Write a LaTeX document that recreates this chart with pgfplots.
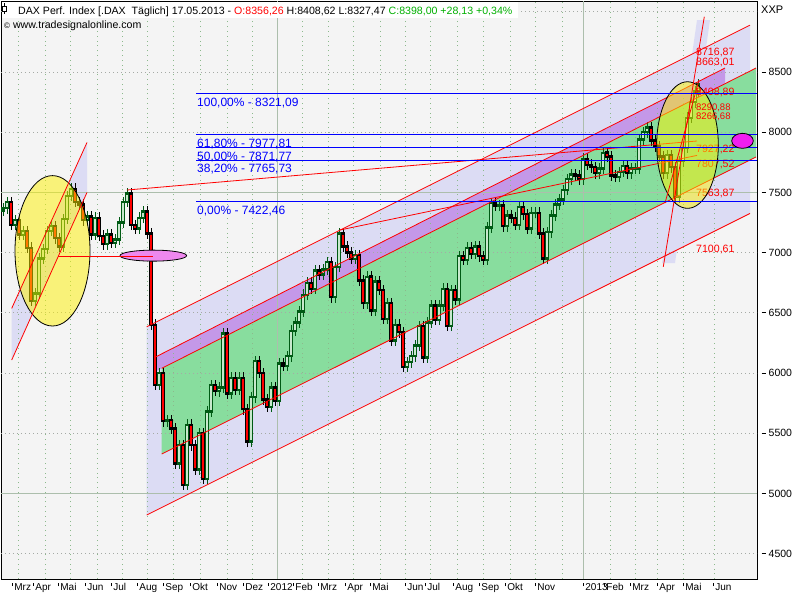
\documentclass[border=0pt]{standalone}
\usepackage{pgfplots}
\pgfplotsset{compat=1.18}
\usepackage{pgfplotstable}
\usepackage{fontspec}
\setmainfont{Liberation Sans}

\definecolor{bgc}{RGB}{244,244,244}
\definecolor{lav}{RGB}{220,220,244}
\definecolor{grn}{RGB}{136,221,158}
\definecolor{pur}{RGB}{196,152,232}
\definecolor{dkg}{RGB}{0,90,20}
\definecolor{upin}{RGB}{200,232,205}
\definecolor{gdotc}{RGB}{140,185,140}
\definecolor{hdotc}{RGB}{165,170,165}
\definecolor{gsolc}{RGB}{172,190,172}
\definecolor{fib}{RGB}{0,0,255}
\definecolor{hgreen}{RGB}{0,176,0}
\definecolor{pinkell}{RGB}{238,136,238}
\definecolor{magell}{RGB}{240,30,240}

\newcommand\tk{\rule[0.3em]{4pt}{0.8pt}\hspace{3pt}}
\newcommand\xt{\rule[0.42em]{0.7pt}{0.3em}\hspace{1.5pt}}
\newcommand\fs{\fontsize{10.5}{12}\selectfont}
\newcommand\fx{\fontsize{10}{12}\selectfont}

\tikzset{
  gdot/.style={draw=gdotc, line width=0.8pt, dash pattern=on 0.8pt off 4pt},
  hdot/.style={draw=hdotc, line width=0.8pt, dash pattern=on 0.8pt off 3.2pt},
  gsol/.style={draw=gsolc, line width=1pt},
  chan/.style={draw=red, line width=0.8pt},
  rlab/.style={anchor=base west, inner sep=0pt, text=red, font=\fontsize{10.6}{12}\selectfont, yshift=-12pt},
  flab/.style={anchor=base west, inner sep=0pt, text=fib, font=\fontsize{12}{13}\selectfont, yshift=-12.5pt},
}
\pgfplotsset{
  cand/.style={draw=none, mark=none, forget plot, error bars/y dir=both, error bars/y explicit, error bars/error mark=none},
}

\pgfplotstableread{
x o c
3 7350 7370
7 7370 7420
11 7420 7230
15 7230 7270
19 7270 7150
23 7150 7180
27 7180 7040
31 7040 6600
35 6600 6660
39 6660 6950
43 6950 7030
47 7030 7180
51 7180 7220
55 7220 7120
59 7120 7050
63 7050 7280
67 7280 7470
71 7470 7530
75 7530 7420
79 7420 7400
83 7400 7270
87 7270 7300
91 7300 7150
95 7150 7290
99 7290 7140
103 7140 7070
107 7070 7150
111 7150 7080
115 7080 7110
119 7110 7250
123 7250 7420
127 7420 7490
131 7490 7230
135 7230 7200
139 7200 7290
143 7290 7340
147 7340 7160
151 7160 6400
155 6400 5900
159 5900 6000
163 6000 5600
167 5600 5610
171 5610 5540
175 5540 5250
179 5250 5400
183 5400 5070
187 5070 5570
191 5570 5400
195 5400 5200
199 5200 5500
203 5500 5120
207 5120 5680
211 5680 5900
215 5900 5850
219 5850 5880
223 5880 6330
227 6330 5830
231 5830 5960
235 5960 5860
239 5860 5960
243 5960 5700
247 5700 5430
251 5430 5800
255 5800 6100
259 6100 6000
263 6000 5780
267 5780 5720
271 5720 5880
275 5880 5770
279 5770 6080
283 6080 6060
287 6060 6140
291 6140 6350
295 6350 6420
299 6420 6510
303 6510 6650
307 6650 6750
311 6750 6700
315 6700 6850
319 6850 6820
323 6820 6860
327 6860 6920
331 6920 6630
335 6630 6880
339 6880 7160
343 7160 7050
347 7050 7000
351 7000 6950
355 6950 6980
359 6980 6770
363 6770 6580
367 6580 6800
371 6800 6520
375 6520 6760
379 6760 6690
383 6690 6450
387 6450 6580
391 6580 6270
395 6270 6400
399 6400 6340
403 6340 6050
407 6050 6090
411 6090 6140
415 6140 6230
419 6230 6390
423 6390 6130
427 6130 6420
431 6420 6560
435 6560 6440
439 6440 6560
443 6560 6700
447 6700 6390
451 6390 6690
455 6690 6610
459 6610 6970
463 6970 6940
467 6940 7040
471 7040 6990
475 6990 7050
479 7050 6970
483 6970 6940
487 6940 7210
491 7210 7410
495 7410 7390
499 7390 7390
503 7390 7220
507 7220 7310
511 7310 7290
515 7290 7230
519 7230 7380
523 7380 7320
527 7320 7200
531 7200 7330
535 7330 7330
539 7330 7160
543 7160 6950
547 6950 7170
551 7170 7310
555 7310 7400
559 7400 7440
563 7440 7520
567 7520 7610
571 7610 7650
575 7650 7640
579 7640 7610
583 7610 7780
587 7780 7730
591 7730 7710
595 7710 7660
599 7660 7700
603 7700 7830
607 7830 7800
611 7800 7640
615 7640 7630
619 7630 7670
623 7670 7720
627 7720 7660
631 7660 7700
635 7700 7700
639 7700 7940
643 7940 8000
647 8000 8040
651 8040 7930
655 7930 7880
659 7880 7800
663 7800 7660
667 7660 7810
671 7810 7710
675 7710 7460
679 7460 7760
683 7760 7870
687 7870 8120
691 8120 8250
695 8250 8340
698 8340 8398
}\dax

\begin{document}
\begin{tikzpicture}[x=1pt,y=1pt]
\useasboundingbox (0,0) rectangle (800,-600);
\begin{axis}[
  at={(1pt,-1pt)}, anchor=north west,
  scale only axis, width=756pt, height=578pt,
  xmin=1, xmax=757, ymin=4289, ymax=9090,
  axis background/.style={fill=bgc},
  axis line style={line width=0.9pt, black},
  ytick={4500,5000,5500,6000,6500,7000,7500,8000,8500},
  yticklabels={\tk 4500,\tk 5000,\tk 5500,\tk 6000,\tk 6500,\tk 7000,\tk 7500,\tk 8000,\tk 8500},
  yticklabel pos=right,
  major tick length=0pt,
  yticklabel style={anchor=west, inner sep=0pt, xshift=4.5pt, font=\fs},
  xtick={12,33,58,85,111,137,163,190,217,243,268,293,318,345,370,405,425,453,479,505,535,583,604,630,657,683,713},
  xticklabels={\xt Mrz,\xt Apr,\xt Mai,\xt Jun,\xt Jul,\xt Aug,\xt Sep,\xt Okt,\xt Nov,\xt Dez,\xt 2012,\xt Feb,\xt Mrz,\xt Apr,\xt Mai,\xt Jun,\xt Jul,\xt Aug,\xt Sep,\xt Okt,\xt Nov,\xt 2013,\xt Feb,\xt Mrz,\xt Apr,\xt Mai,\xt Jun},
  xticklabel style={anchor=north west, inner sep=0pt, yshift=-4pt, font=\fx},
]
% channel fills
\addplot[fill=lav, draw=none] coordinates {(146.7,4820.4) (750,7325.5) (750,8889.5) (146.7,6384.4)} --cycle;
\addplot[fill=lav, draw=none] coordinates {(11.7,6108) (87,7500) (87,7915) (11.7,6537)} --cycle;
\addplot[fill=lav, draw=none] coordinates {(662,6913.5) (697,8931.9) (710,8931.9) (675,6913.5)} --cycle;
\addplot[fill=pur, draw=none] coordinates {(156,6014.8) (725,8402.8) (725,8533.2) (156,6135.2)} --cycle;
\addplot[fill=grn, draw=none] coordinates {(161.7,5327.1) (756,7794) (756,8533.2) (161.7,6038.9)} --cycle;
% grid
\pgfplotsinvokeforeach{18,45,70,97,122,147,173,200,227,252,302,328,353,380,405,430,457,483,510,535,562,610,635,657,683,714}{
  \draw[gdot] (axis cs:#1,4289) -- (axis cs:#1,9090);
}
\pgfplotsinvokeforeach{4500,5500,6000,6500,7000,8000,8500,9000}{
  \draw[hdot] (axis cs:1,#1) -- (axis cs:757,#1);
}
\draw[gsol] (axis cs:277,4289) -- (axis cs:277,9090);
\draw[gsol] (axis cs:583,4289) -- (axis cs:583,9090);
\draw[gsol] (axis cs:1,5000) -- (axis cs:757,5000);
\draw[gsol] (axis cs:1,7500) -- (axis cs:757,7500);
% candles
\addplot[cand, error bars/error bar style={draw=dkg, line width=0.8pt}]
  table[x=x, y expr={(\thisrow{o}+\thisrow{c})/2}, y error expr={(\thisrow{c}-\thisrow{o}>-0.5)*(abs(\thisrow{c}-\thisrow{o})/2+45)}] {\dax};
\addplot[cand, error bars/error bar style={draw=black, line width=0.8pt}]
  table[x=x, y expr={(\thisrow{o}+\thisrow{c})/2}, y error expr={(\thisrow{c}-\thisrow{o}<-0.5)*(abs(\thisrow{c}-\thisrow{o})/2+45)}] {\dax};
\addplot[cand, error bars/error bar style={draw=dkg, line width=3.2pt}]
  table[x=x, y expr={(\thisrow{o}+\thisrow{c})/2}, y error expr={(\thisrow{c}-\thisrow{o}>-0.5)*(abs(\thisrow{c}-\thisrow{o})/2+10)}] {\dax};
\addplot[cand, error bars/error bar style={draw=upin, line width=1.2pt}]
  table[x=x, y expr={(\thisrow{o}+\thisrow{c})/2}, y error expr={(\thisrow{c}-\thisrow{o}>-0.5)*max(abs(\thisrow{c}-\thisrow{o})/2-10,0)}] {\dax};
\addplot[cand, error bars/error bar style={draw=black, line width=3.2pt}]
  table[x=x, y expr={(\thisrow{o}+\thisrow{c})/2}, y error expr={(\thisrow{c}-\thisrow{o}<-0.5)*(abs(\thisrow{c}-\thisrow{o})/2+10)}] {\dax};
\addplot[cand, error bars/error bar style={draw=red, line width=1.4pt}]
  table[x=x, y expr={(\thisrow{o}+\thisrow{c})/2}, y error expr={(\thisrow{c}-\thisrow{o}<-0.5)*max(abs(\thisrow{c}-\thisrow{o})/2-10,0)}] {\dax};
% channel lines
\addplot[chan] coordinates {(146.7,6384.4) (750,8889.5)};
\addplot[chan] coordinates {(146.7,4820.4) (750,7325.5)};
\addplot[chan] coordinates {(156,6135.2) (725,8533.2)};
\addplot[chan] coordinates {(161.7,6038.9) (756,8533.2)};
\addplot[chan] coordinates {(161.7,5327.1) (756,7794)};
\addplot[chan] coordinates {(127,7520) (697,7927.22)};
\addplot[chan] coordinates {(340,7188) (697,7807.52)};
\node[rlab] at (axis cs:696,7927.22) {7927,22};
\node[rlab] at (axis cs:696,7807.52) {7807,52};
\node[rlab] at (axis cs:696,7563.87) {7563,87};
\node[rlab] at (axis cs:696,7100.61) {7100,61};
% yellow ellipses
\draw[black, line width=0.8pt, fill=yellow, fill opacity=0.5] (axis cs:52.5,7015) ellipse [x radius=37.5pt, y radius=75.2pt];
\draw[black, line width=0.8pt, fill=yellow, fill opacity=0.5] (axis cs:687.5,7893.6) ellipse [x radius=30.8pt, y radius=63.3pt];
% steep lines
\addplot[chan] coordinates {(11.7,6537) (87,7915)};
\addplot[chan] coordinates {(11.7,6108) (87,7500)};
\addplot[chan] coordinates {(663.3,6882.8) (704.3,8959.3)};
\addplot[chan] coordinates {(665,7411.9) (699,8433.5)};
\node[rlab, yshift=2.5pt] at (axis cs:696,8716.87) {8716,87};
\node[rlab, yshift=-1pt] at (axis cs:696,8663.01) {8663,01};
\node[rlab] at (axis cs:696,8408.89) {8408,89};
\node[rlab, yshift=-1pt, font=\fontsize{9.5}{11}\selectfont] at (axis cs:696,8290.88) {8290,88};
\node[rlab, yshift=-7pt, font=\fontsize{9.5}{11}\selectfont] at (axis cs:696,8266.68) {8266,68};
% fibonacci
\addplot[fib, line width=1.1pt] coordinates {(196,8321.09) (757,8321.09)};
\addplot[fib, line width=1.1pt] coordinates {(196,7977.81) (757,7977.81)};
\addplot[fib, line width=1.1pt] coordinates {(196,7871.77) (757,7871.77)};
\addplot[fib, line width=1.1pt] coordinates {(196,7765.73) (757,7765.73)};
\addplot[fib, line width=1.1pt] coordinates {(196,7422.46) (757,7422.46)};
\node[flab] at (axis cs:197,8321.09) {100,00\% - 8321,09};
\node[flab] at (axis cs:197,7977.81) {61,80\% - 7977,81};
\node[flab] at (axis cs:197,7871.77) {50,00\% - 7871,77};
\node[flab] at (axis cs:197,7765.73) {38,20\% - 7765,73};
\node[flab] at (axis cs:197,7422.46) {0,00\% - 7422,46};
% pink ellipses
\draw[black, line width=0.8pt, fill=pinkell] (axis cs:153.3,6975) ellipse [x radius=33.3pt, y radius=5.5pt];
\draw[black, line width=0.8pt, fill=magell] (axis cs:742.5,7928.5) ellipse [x radius=10.8pt, y radius=7.5pt];
\addplot[chan] coordinates {(58,6972) (153,6972)};
\end{axis}
% header
\fill[white] (1.5,-1.5) rectangle (518,-18);
\draw[black, line width=0.7pt] (4.5,-3) -- (4.5,-14);
\draw[black, line width=0.7pt, fill=white] (2.5,-6) rectangle (6.5,-11);
\node[anchor=base west, inner sep=0pt, font=\fontsize{10.6}{12}\selectfont] at (18,-14)
  {DAX Perf. Index [.DAX\ \ Täglich] 17.05.2013 - \textcolor{red}{O:8356,26} H:8408,62 L:8327,47 \textcolor{hgreen}{C:8398,00 +28,13 +0,34\%}};
\node[anchor=base west, inner sep=0pt, font=\fontsize{10.6}{12}\selectfont] at (4,-28)
  {{\fontsize{8}{9}\selectfont ©}\ www.tradesignalonline.com};
\node[anchor=base west, inner sep=0pt, font=\fontsize{11}{12}\selectfont] at (761,-13) {XXP};
\end{tikzpicture}
\end{document}
